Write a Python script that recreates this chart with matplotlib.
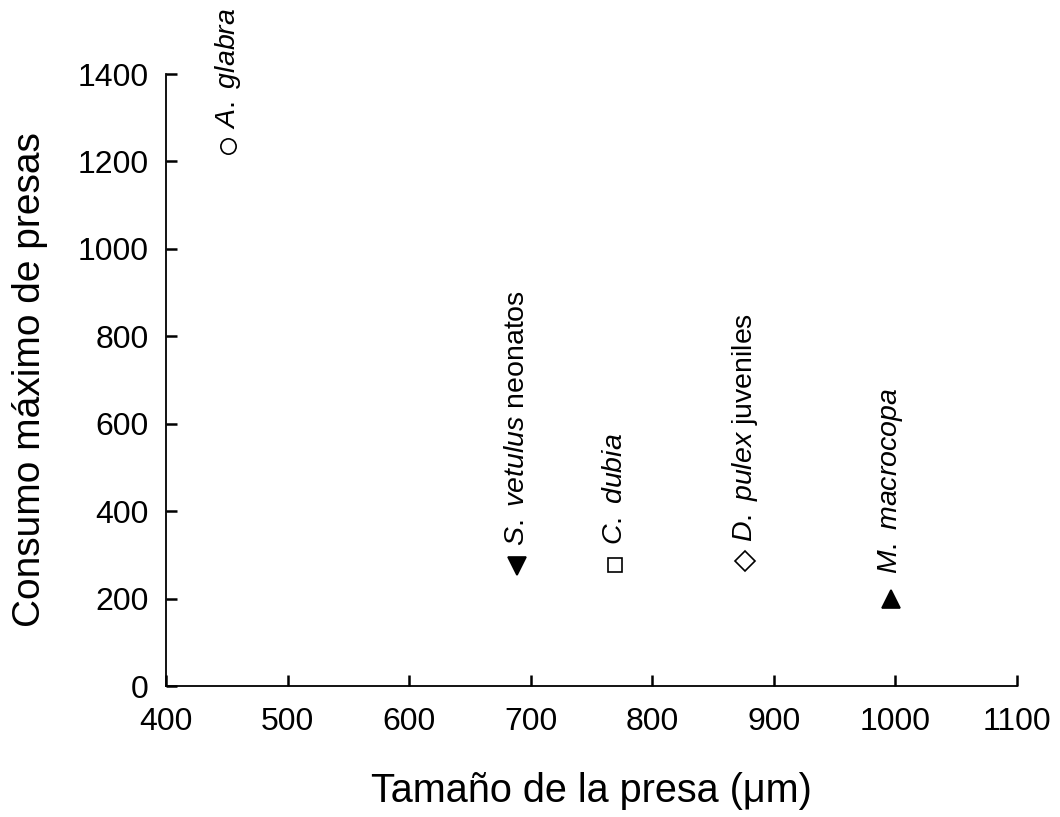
import matplotlib.pyplot as plt

plt.rcParams['font.family'] = ['Liberation Sans', 'DejaVu Sans']
plt.rcParams['mathtext.fontset'] = 'custom'
plt.rcParams['mathtext.rm'] = 'Liberation Sans'
plt.rcParams['mathtext.it'] = 'Liberation Sans:italic'

# prey size (um) vs. maximum prey consumption
species = [r'$\mathit{A.\ glabra}$',
           r'$\mathit{S.\ vetulus}$ neonatos',
           r'$\mathit{C.\ dubia}$',
           r'$\mathit{D.\ pulex}$ juveniles',
           r'$\mathit{M.\ macrocopa}$']
prey_size = [451, 689, 769, 876, 996]
max_consumption = [1235, 275, 277, 285, 200]
markers = ['o', 'v', 's', 'D', '^']
filled = [False, True, False, False, True]
msizes = [11, 13, 10, 10, 13]
offsets = [12, 14, 14, 14, 18]

fig = plt.figure(figsize=(10.6, 8.17), dpi=100)
ax = fig.add_axes([0.1566, 0.1603, 0.8028, 0.7491])

for x, y, m, f, ms, lab, off in zip(prey_size, max_consumption, markers,
                                     filled, msizes, species, offsets):
    ax.plot(x, y, marker=m, ms=ms, mec='black', mew=1.2,
            mfc='black' if f else 'white', ls='none', clip_on=False)
    ax.annotate(lab, (x, y), xytext=(0, off), textcoords='offset points',
                rotation=90, ha='center', va='bottom', fontsize=20.5,
                annotation_clip=False)

ax.set_xlim(400, 1100)
ax.set_ylim(0, 1400)
ax.set_xticks(range(400, 1101, 100))
ax.set_yticks(range(0, 1401, 200))

ax.spines['right'].set_visible(False)
ax.spines['top'].set_visible(False)
for s in ['left', 'bottom']:
    ax.spines[s].set_linewidth(1.3)
ax.tick_params(direction='in', length=8, width=1.8, labelsize=23)
ax.tick_params(axis='x', pad=15)
ax.tick_params(axis='y', pad=12.5)

ax.set_xlabel('Tamaño de la presa (μm)', fontsize=28.5, labelpad=25)
ax.set_ylabel('Consumo máximo de presas', fontsize=28, labelpad=21)

fig.savefig('out.png', dpi=100)
